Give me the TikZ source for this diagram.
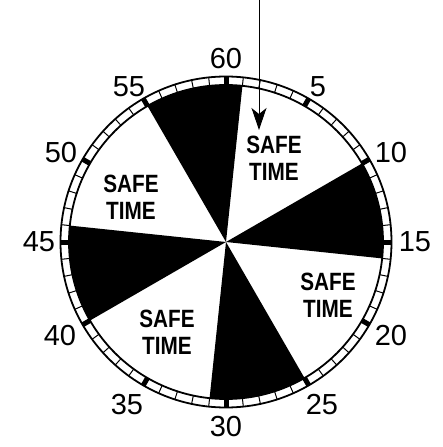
\documentclass[tikz,border=0pt]{standalone}
\usepackage{fontspec}
\setmainfont{Liberation Sans}
\newfontfamily\safefont[FakeStretch=0.83]{Liberation Sans}
\usetikzlibrary{arrows.meta}
\begin{document}
\begin{tikzpicture}[x=1pt,y=1pt,
  ring/.style={line width=1.8pt},
  tick/.style={line width=1pt},
  hourmark/.style={line width=5pt},
  wedge/.style={fill=black},
  numlabel/.style={font=\fontsize{29}{29}\selectfont, inner sep=0pt},
  safe/.style={font=\safefont\fontsize{25}{27}\selectfont\bfseries, align=center, inner sep=0pt},
  pointer/.style={line width=1pt, -{Stealth[length=22pt,width=15pt,inset=6pt]}}]
\useasboundingbox (-226,-205) rectangle (217,242);
\coordinate (c) at (0,0);
\foreach \a/\b in {84/120, -6/30, -96/-60, 174/210} {
  \fill[wedge] (c) -- (\a:157) arc[start angle=\a, end angle=\b, radius=157] -- cycle;
}
\foreach \m in {0,...,59} { \draw[tick] ({90-6*\m}:157) -- ({90-6*\m}:165.5); }
\foreach \m in {0,5,...,55} { \draw[hourmark] ({90-6*\m}:157) -- ({90-6*\m}:165.5); }
\draw[ring] (c) circle[radius=165.5];
\draw[ring] (c) circle[radius=157];
\node[numlabel] (n60) at (0,183) {60};
\node[numlabel] (n55) at (-97,155) {55};
\node[numlabel] (n50) at (-165,89) {50};
\node[numlabel] (n45) at (-187,0) {45};
\node[numlabel] (n40) at (-166,-94) {40};
\node[numlabel] (n35) at (-99,-163) {35};
\node[numlabel] (n30) at (0,-185) {30};
\node[numlabel] (n25) at (96,-163) {25};
\node[numlabel] (n20) at (165,-94) {20};
\node[numlabel] (n15) at (189,0) {15};
\node[numlabel] (n10) at (165,89) {10};
\node[numlabel] (n5) at (92,155) {5};
\node[safe] (s1) at (48,84) {SAFE\\TIME};
\node[safe] (s2) at (-95,45) {SAFE\\TIME};
\node[safe] (s3) at (102,-53) {SAFE\\TIME};
\node[safe] (s4) at (-59,-90) {SAFE\\TIME};
\coordinate (arrowstart) at (33,242);
\coordinate (arrowtip) at (33,112);
\draw[pointer] (arrowstart) -- (arrowtip);
\end{tikzpicture}
\end{document}
